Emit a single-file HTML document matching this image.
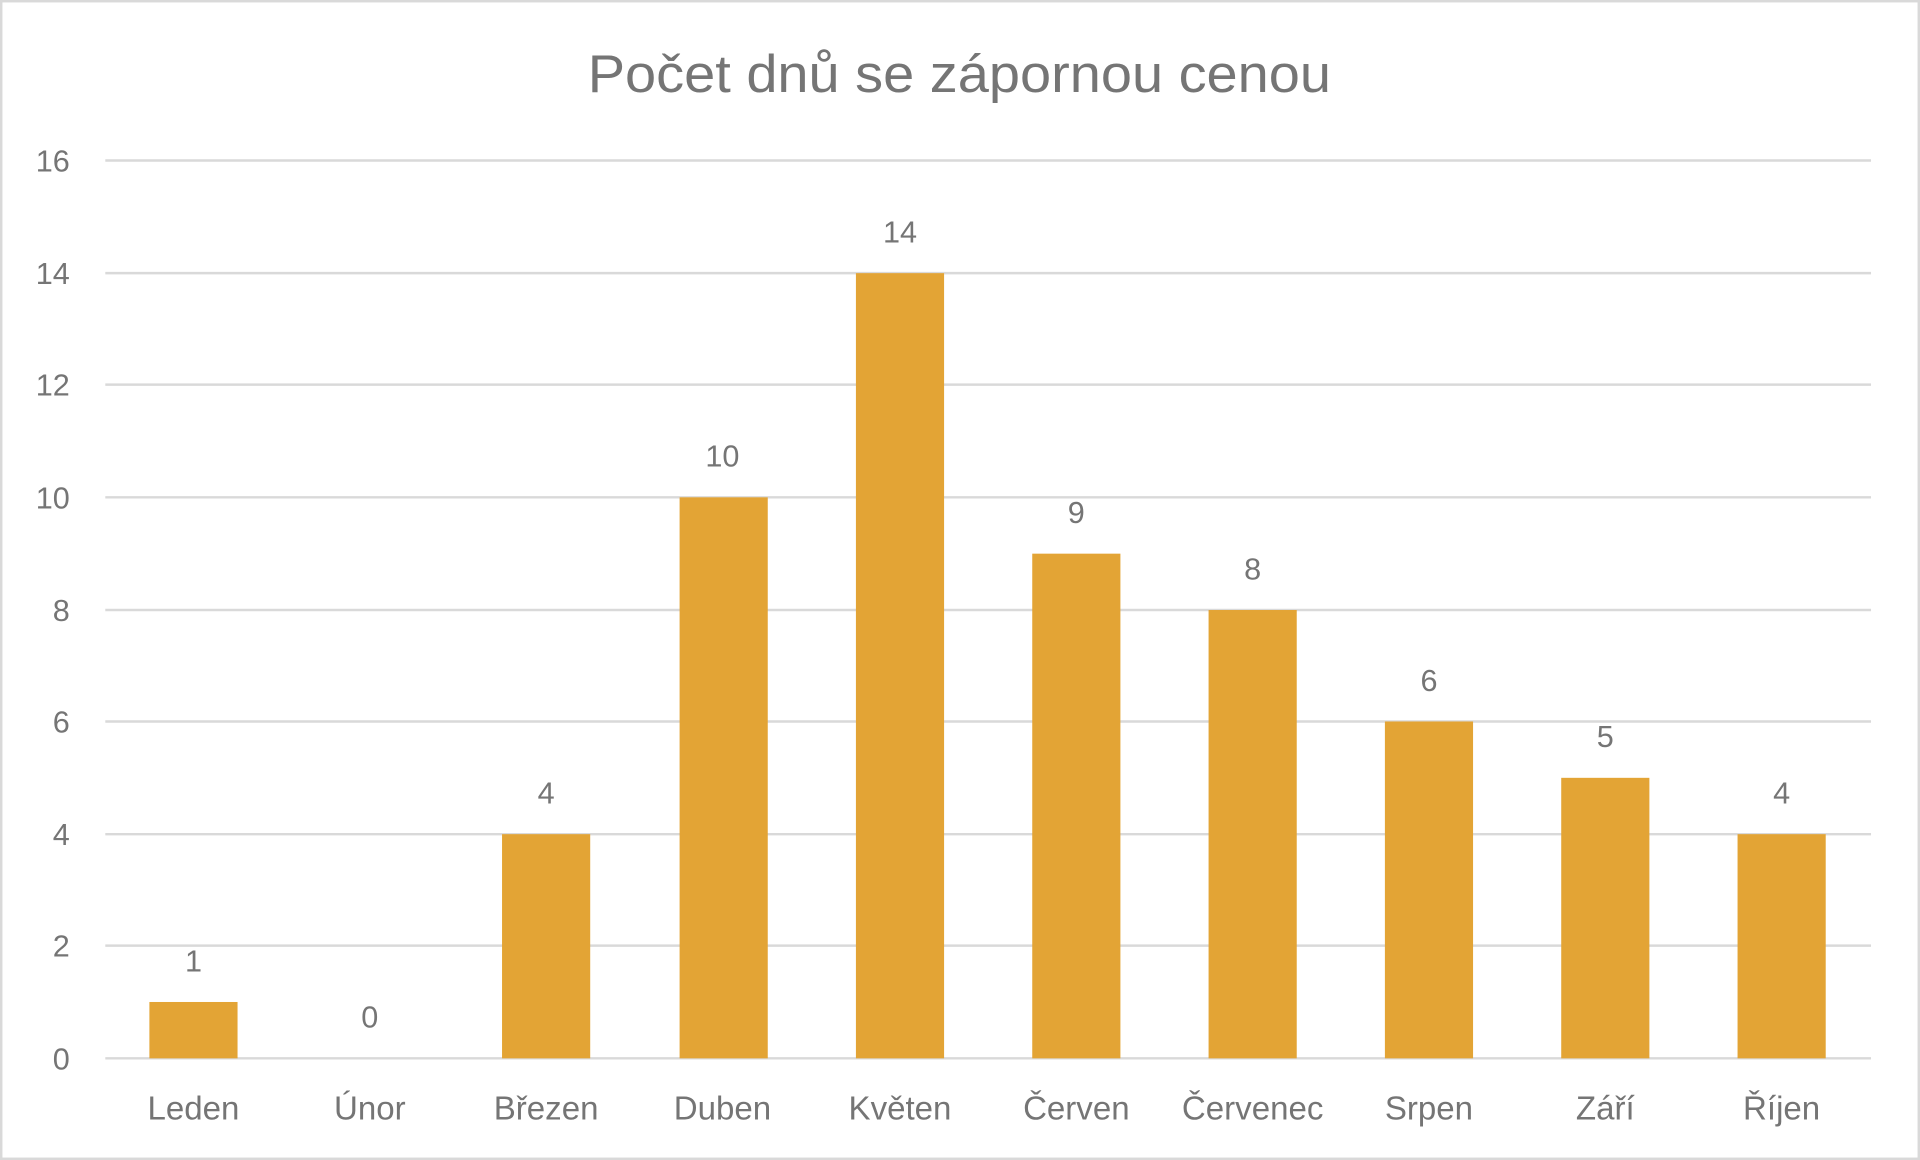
<!DOCTYPE html>
<html><head><meta charset="utf-8"><style>html,body{margin:0;padding:0;background:#fff}svg{display:block}</style></head>
<body>
<svg width="1920" height="1160" viewBox="0 0 1568 947" preserveAspectRatio="none" xmlns="http://www.w3.org/2000/svg" font-family="Liberation Sans, DejaVu Sans, sans-serif">
<rect x="1" y="1" width="1566" height="945" fill="#fff" stroke="#d9d9d9" stroke-width="2"/>
<text x="480" y="75" font-size="43" fill="#757575" textLength="607" lengthAdjust="spacingAndGlyphs">Počet dnů se zápornou cenou</text>
<g stroke="#d9d9d9" stroke-width="2">
<line x1="86" x2="1528" y1="131" y2="131"/><line x1="86" x2="1528" y1="223" y2="223"/>
<line x1="86" x2="1528" y1="314" y2="314"/><line x1="86" x2="1528" y1="406" y2="406"/>
<line x1="86" x2="1528" y1="498" y2="498"/><line x1="86" x2="1528" y1="589" y2="589"/>
<line x1="86" x2="1528" y1="681" y2="681"/><line x1="86" x2="1528" y1="772" y2="772"/>
<line x1="86" x2="1528" y1="864" y2="864"/>
</g>
<g font-size="25" fill="#757575" text-anchor="end">
<text x="57" y="140">16</text><text x="57" y="232">14</text><text x="57" y="323">12</text>
<text x="57" y="415">10</text><text x="57" y="507">8</text><text x="57" y="598">6</text>
<text x="57" y="690">4</text><text x="57" y="781">2</text><text x="57" y="873">0</text>
</g>
<g fill="#e3a435">
<rect x="122" y="818" width="72" height="46"/>
<rect x="410" y="681" width="72" height="183"/>
<rect x="555" y="406" width="72" height="458"/>
<rect x="699" y="223" width="72" height="641"/>
<rect x="843" y="452" width="72" height="412"/>
<rect x="987" y="498" width="72" height="366"/>
<rect x="1131" y="589" width="72" height="275"/>
<rect x="1275" y="635" width="72" height="229"/>
<rect x="1419" y="681" width="72" height="183"/>
</g>
<g font-size="25" fill="#757575" text-anchor="middle">
<text x="158" y="793">1</text><text x="302" y="839">0</text><text x="446" y="656">4</text>
<text x="590" y="381">10</text><text x="735" y="198">14</text><text x="879" y="427">9</text>
<text x="1023" y="473">8</text><text x="1167" y="564">6</text><text x="1311" y="610">5</text>
<text x="1455" y="656">4</text>
</g>
<g font-size="27" fill="#757575" text-anchor="middle">
<text x="158" y="914">Leden</text><text x="302" y="914">Únor</text><text x="446" y="914">Březen</text>
<text x="590" y="914">Duben</text><text x="735" y="914">Květen</text><text x="879" y="914">Červen</text>
<text x="1023" y="914">Červenec</text><text x="1167" y="914">Srpen</text><text x="1311" y="914">Září</text>
<text x="1455" y="914">Říjen</text>
</g>
</svg>
</body></html>
